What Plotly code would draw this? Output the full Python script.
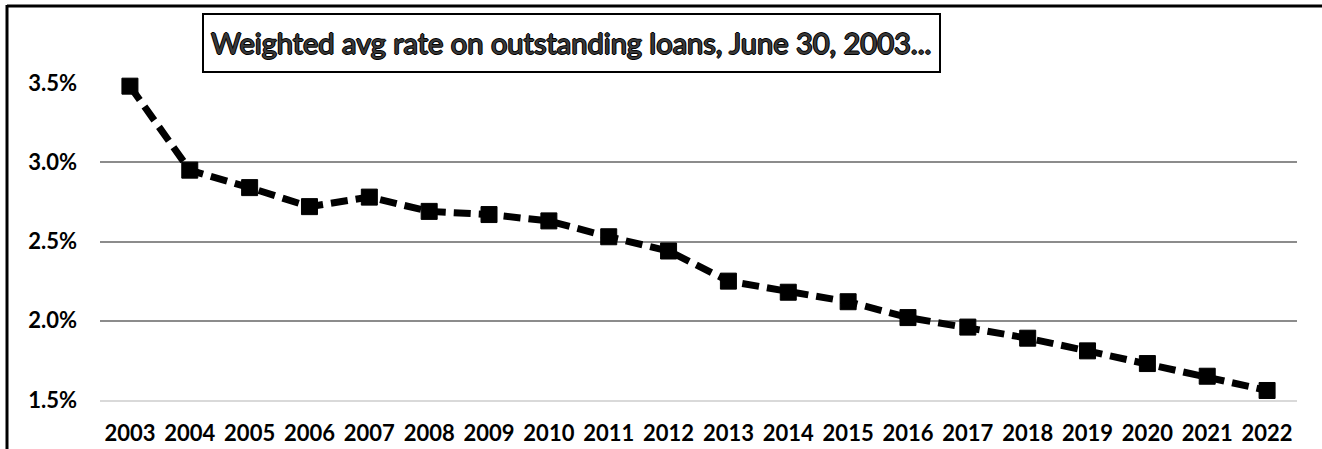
import plotly.graph_objects as go

years = [str(y) for y in range(2003, 2023)]
rates = [3.48, 2.95, 2.84, 2.72, 2.78, 2.69, 2.67, 2.63, 2.53, 2.44,
         2.25, 2.18, 2.12, 2.02, 1.96, 1.89, 1.81, 1.73, 1.65, 1.56]
y_ticks = [1.5, 2.0, 2.5, 3.0, 3.5]
y_tick_labels = ["1.5%", "2.0%", "2.5%", "3.0%", "3.5%"]
title_text = "Weighted avg rate on outstanding loans, June 30, 2003..."

W, H = 1322, 449
L, R, T, B = 100, 25, 83, 49
pw, ph = W - L - R, H - T - B

def px(x):
    return (x - L) / pw

def py(y):
    return (H - B - y) / ph

FONT = "Lato, sans-serif"

fig = go.Figure()
fig.add_trace(go.Scatter(
    x=years, y=rates, mode="lines+markers",
    line=dict(color="black", width=7, dash="17px,8px"),
    marker=dict(symbol="square", size=16, color="black",
                line=dict(width=1, color="black")),
    cliponaxis=False, showlegend=False,
))

fig.update_layout(
    width=W, height=H,
    margin=dict(l=L, r=R, t=T, b=B, pad=0, autoexpand=False),
    paper_bgcolor="white", plot_bgcolor="white",
    font=dict(family=FONT, color="black"),
    xaxis=dict(
        type="category", range=[-0.5, 19.5], automargin=False,
        showgrid=False, showline=True, linecolor="#d9d9d9", linewidth=2,
        ticks="", ticklabelstandoff=13, tickangle=0,
        tickfont=dict(family=FONT, size=22, color="black", weight="bold"),
    ),
    yaxis=dict(
        range=[1.5, 3.5], tickvals=y_ticks, ticktext=y_tick_labels,
        automargin=False,
        showgrid=True, gridcolor="#8c8c8c", gridwidth=2,
        zeroline=False, showline=False, ticks="", ticklabelstandoff=22,
        tickfont=dict(family=FONT, size=22, color="black", weight="bold"),
    ),
    shapes=[
        dict(type="line", xref="paper", yref="paper",
             x0=px(7), x1=px(W + 5), y0=py(6), y1=py(6),
             line=dict(color="black", width=3)),
        dict(type="line", xref="paper", yref="paper",
             x0=px(7), x1=px(7), y0=py(5), y1=py(H + 5),
             line=dict(color="black", width=3)),
        dict(type="rect", xref="paper", yref="paper",
             x0=px(203), x1=px(940), y0=py(72), y1=py(14),
             line=dict(color="black", width=2), fillcolor="white"),
    ],
    annotations=[
        dict(text=title_text, xref="paper", yref="paper",
             x=px(571), y=py(43), xanchor="center", yanchor="middle",
             showarrow=False,
             font=dict(family=FONT, size=29, color="#3a3a3a",
                       shadow="1px 0 0 #000, -1px 0 0 #000, 0 1px 0 #000, 0 -1px 0 #000")),
    ],
)

fig.write_html("out.html")
